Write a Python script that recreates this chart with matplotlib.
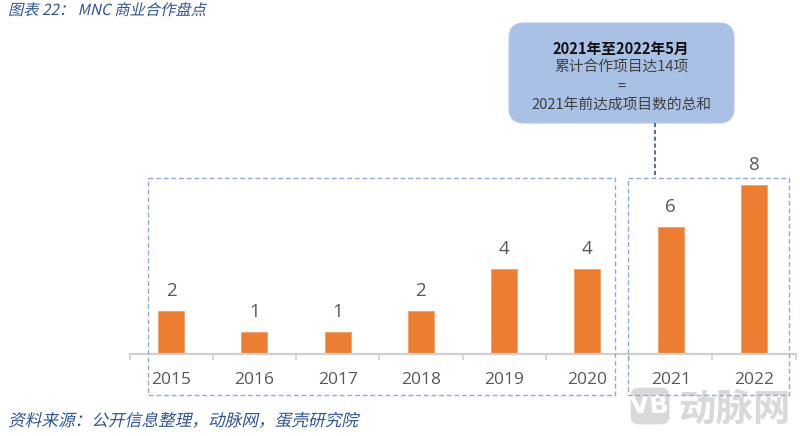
import matplotlib
matplotlib.use("Agg")
import matplotlib.pyplot as plt
from matplotlib.patches import FancyBboxPatch, Rectangle
from matplotlib.patheffects import AbstractPathEffect
from matplotlib.transforms import Affine2D

years = ["2015", "2016", "2017", "2018", "2019", "2020", "2021", "2022"]
counts = [2, 1, 1, 2, 4, 4, 6, 8]
title = "图表 22\uff1a MNC 商业合作盘点"
source = "资料来源\uff1a公开信息整理\uff0c动脉网\uff0c蛋壳研究院"
box_lines = ["2021年至2022年5月", "累计合作项目达14项", "=", "2021年前达成项目数的总和"]
watermark = "动脉网"

CJK = ["Noto Sans CJK SC", "DejaVu Sans"]
plt.rcParams["font.family"] = CJK


class Slant(AbstractPathEffect):
    """Shears the glyph outlines of real text, for the oblique captions."""
    def __init__(self, deg=13):
        super().__init__()
        self.deg = deg

    def draw_path(self, renderer, gc, tpath, affine, rgbFace=None):
        renderer.draw_path(gc, tpath, Affine2D().skew_deg(self.deg, 0) + affine, rgbFace)


fig = plt.figure(figsize=(8, 4.36), dpi=100, facecolor="white")
W, H = 800, 436


def px_axes(l, t, r, b, **kw):
    return fig.add_axes([l / W, 1 - b / H, (r - l) / W, (b - t) / H], **kw)


ov = px_axes(0, 0, W, H)
ov.set_xlim(0, W)
ov.set_ylim(H, 0)
ov.axis("off")
ov.set_zorder(3)

under = px_axes(0, 0, W, H)
under.set_xlim(0, W)
under.set_ylim(H, 0)
under.axis("off")
under.set_zorder(0)

# watermark
under.add_patch(FancyBboxPatch((632, 389), 36, 34, boxstyle="round,pad=0,rounding_size=7",
                               fc="#D9D9D9", ec="#D9D9D9", lw=2))
under.text(650, 406, "VB", color="white", fontsize=18, fontweight="bold", ha="center", va="center",
           family="DejaVu Sans", path_effects=[Slant(-6)])
under.text(678, 421, watermark, color="#D9D9D9", fontsize=27, fontweight="bold", ha="left", va="baseline")

# chart
ax = px_axes(129.5, 185 - 168 * 0.0625, 795.5, 353.5)
ax.set_zorder(2)
ax.patch.set_alpha(0)
x = list(range(len(years)))
bars = ax.bar(x, counts, width=0.315, color="#ED7D31", edgecolor="#F4A06A", linewidth=0.6)
ax.set_xlim(-0.5, 7.5)
ax.set_ylim(0, 8.5)
ax.set_yticks([])
ax.set_xticks(x, years)
ax.set_xticks([i - 0.5 for i in range(len(years) + 1)], minor=True)
ax.tick_params(axis="x", which="major", length=0, pad=13, labelsize=12.5, labelcolor="#595959")
ax.tick_params(axis="x", which="minor", length=4, width=1.2, color="#D0D0D0")
for lab in ax.get_xticklabels():
    lab.set_fontfamily("Open Sans")
for s in ["top", "left", "right"]:
    ax.spines[s].set_visible(False)
ax.spines["bottom"].set_color("#D0D0D0")
ax.spines["bottom"].set_linewidth(1.6)
labels = ax.bar_label(bars, labels=[str(c) for c in counts], padding=8, fontsize=13.5, color="#595959")
for t in labels:
    t.set_fontfamily("Open Sans")

# dashed group frames
dash = dict(fill=False, ec="#8FAADC", lw=1.0, ls=(0, (3.5, 2)))
ov.add_patch(Rectangle((148, 178), 466.5, 217, **dash))
ov.add_patch(Rectangle((627.5, 178), 161.5, 217, **dash))
ov.plot([655, 655], [123, 178], color="#2F5597", lw=1.2, ls=(0, (2.5, 1.6)))

# callout
ov.add_patch(FancyBboxPatch((509, 23), 225, 100, boxstyle="round,pad=0,rounding_size=15",
                            fc="#A9C1E5", ec="#B4C8E8", lw=0.8))
ys = [49, 68, 87, 106]
for i, (y, line) in enumerate(zip(ys, box_lines)):
    ov.text(621, y, line, ha="center", va="center", fontsize=10.6,
            color="#111111" if i == 0 else "#404040",
            fontweight="bold" if i == 0 else "normal")

# captions
ov.text(8, 15, title, ha="left", va="baseline", fontsize=11, color="#2F5597",
        path_effects=[Slant()])
ov.text(8, 426, source, ha="left", va="baseline", fontsize=12, color="#2F5597",
        path_effects=[Slant()])

fig.savefig("out.png", dpi=100)
